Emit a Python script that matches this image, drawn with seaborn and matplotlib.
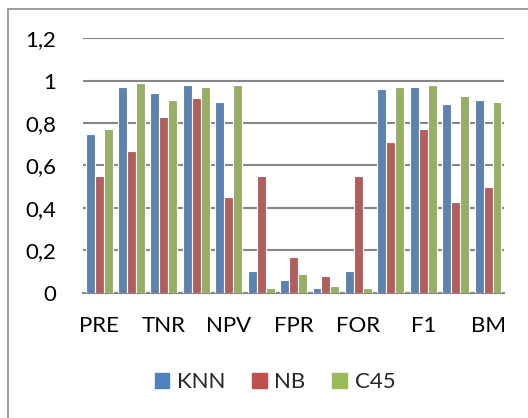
import numpy as np
import matplotlib
matplotlib.use("Agg")
import matplotlib.pyplot as plt
from matplotlib.lines import Line2D
import seaborn as sns
import pandas as pd

# metrics (only every second name is printed on the axis, like the original)
metrics = ["PRE", "REC", "TNR", "PPV", "NPV", "FNR", "FPR",
           "FDR", "FOR", "ACC", "F1", "MCC", "BM"]
knn = [0.75, 0.97, 0.94, 0.98, 0.90, 0.10, 0.06, 0.02, 0.10, 0.96, 0.97, 0.89, 0.91]
nb = [0.55, 0.67, 0.83, 0.92, 0.45, 0.55, 0.17, 0.08, 0.55, 0.71, 0.77, 0.43, 0.50]
c45 = [0.77, 0.99, 0.91, 0.97, 0.98, 0.02, 0.09, 0.03, 0.02, 0.97, 0.98, 0.93, 0.90]
models = ["KNN", "NB", "C45"]
colors = ["#4F81BD", "#C0504D", "#9BBB59"]
yticks = [0, 0.2, 0.4, 0.6, 0.8, 1.0, 1.2]
ytick_labels = ["0", "0,2", "0,4", "0,6", "0,8", "1", "1,2"]

df = pd.DataFrame({
    "metric": metrics * 3,
    "model": ["KNN"] * len(metrics) + ["NB"] * len(metrics) + ["C45"] * len(metrics),
    "value": knn + nb + c45,
})

sns.set_style("white")
plt.rcParams["font.family"] = ["Lato", "DejaVu Sans"]

fig = plt.figure(figsize=(5.28, 4.18), dpi=100)
ax = fig.add_axes([0.157, 0.2998, 0.798, 0.6086])

sns.barplot(data=df, x="metric", y="value", hue="model", order=metrics,
            hue_order=models, palette=colors, width=0.83, edgecolor="white",
            linewidth=0.8, errorbar=None, legend=False, ax=ax, zorder=3)

ax.set_ylim(0, 1.2)
ax.set_xlim(-0.5, len(metrics) - 0.5)
ax.set_yticks(yticks)
ax.set_yticklabels(ytick_labels)
ax.set_xticks(range(len(metrics)))
ax.set_xticklabels([m if i % 2 == 0 else "" for i, m in enumerate(metrics)])
ax.tick_params(axis="y", length=0, pad=19, labelsize=16, labelcolor="#000000")
ax.tick_params(axis="x", length=0, pad=17, labelsize=16, labelcolor="#000000")
ax.set_xlabel("")
ax.set_ylabel("")
ax.yaxis.grid(True, color="#868686", linewidth=1.5, zorder=0)
ax.set_axisbelow(True)
for s in ["left", "right", "top"]:
    ax.spines[s].set_visible(False)
ax.spines["bottom"].set_color("#868686")
ax.spines["bottom"].set_linewidth(1.5)

handles = [plt.Rectangle((0, 0), 1, 1, color=c) for c in colors]
fig.legend(handles, models, loc="center", bbox_to_anchor=(275 / 528, 1 - 382 / 418),
           ncol=3, frameon=False, fontsize=16, handlelength=0.65, handleheight=0.65,
           handletextpad=0.35, columnspacing=1.2)

# chart frame (only left and top edges visible in the crop)
fig.add_artist(Line2D([7.5 / 528, 7.5 / 528], [0, 1 - 9 / 418],
                      transform=fig.transFigure, color="#8C8C8C", linewidth=1.2))
fig.add_artist(Line2D([7.5 / 528, 1], [1 - 9 / 418, 1 - 9 / 418],
                      transform=fig.transFigure, color="#8C8C8C", linewidth=1.2))

fig.savefig("out.png", dpi=100)
